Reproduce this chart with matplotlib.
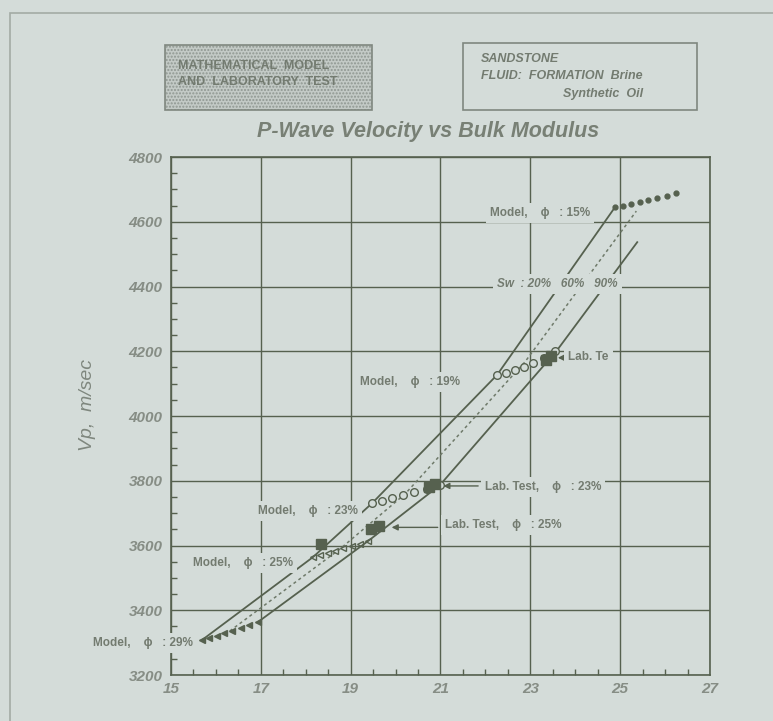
import matplotlib
matplotlib.use('Agg')
import matplotlib.pyplot as plt
import matplotlib.patches as patches
from matplotlib.ticker import MultipleLocator

plt.rcParams['font.family'] = ['Liberation Sans', 'DejaVu Sans']

BG = '#d4dcd9'
INK = '#56614f'
TXT = '#737b70'
TICK = '#868d85'

# model envelopes, K (GPa) vs Vp (m/s), one point per porosity
k_sw20 = [15.69, 18.16, 19.48, 22.26, 24.89]
vp_sw20 = [3308, 3564, 3731, 4127, 4646]
k_sw60 = [16.31, 18.76, 20.21, 22.88, 25.36]
vp_sw60 = [3336, 3589, 3759, 4167, 4633]
k_sw90 = [16.94, 19.39, 20.99, 23.60, 25.38]
vp_sw90 = [3364, 3614, 3787, 4204, 4537]

# model points for each porosity
k_p29 = [15.69, 15.85, 16.02, 16.19, 16.36, 16.55, 16.74, 16.94]
vp_p29 = [3308, 3314, 3322, 3329, 3337, 3345, 3354, 3364]
k_p25 = [18.16, 18.32, 18.49, 18.66, 18.84, 19.02, 19.20, 19.39]
vp_p25 = [3564, 3570, 3577, 3584, 3591, 3598, 3606, 3614]
k_p23 = [19.48, 19.70, 19.93, 20.17, 20.42, 20.69, 20.99]
vp_p23 = [3731, 3738, 3746, 3755, 3764, 3775, 3787]
k_p19 = [22.26, 22.45, 22.65, 22.85, 23.06, 23.30, 23.55]
vp_p19 = [4127, 4134, 4143, 4152, 4163, 4178, 4200]
k_p15 = [24.89, 25.07, 25.25, 25.44, 25.63, 25.83, 26.04, 26.25]
vp_p15 = [4646, 4650, 4655, 4660, 4666, 4672, 4680, 4689]

# laboratory measurements
k_lab = [18.34, 19.45, 19.62, 20.75, 20.88, 23.35, 23.47]
vp_lab = [3605, 3652, 3660, 3782, 3790, 4172, 4185]

x_ticks = [15, 17, 19, 21, 23, 25, 27]
y_ticks = [3200, 3400, 3600, 3800, 4000, 4200, 4400, 4600, 4800]

fig = plt.figure(figsize=(7.73, 7.21), dpi=100)
fig.patch.set_facecolor(BG)

# outer frame
fig.patches.append(patches.Rectangle((0.013, -0.1), 1.2, 1.082, transform=fig.transFigure,
                                     fill=False, edgecolor='#a3aba5', lw=1.2))

# header boxes
fig.patches.append(patches.Rectangle((0.2135, 0.8474), 0.2678, 0.0902, transform=fig.transFigure,
                                     facecolor='#c3cac6', edgecolor='#8f9791', hatch='.....', lw=0))
fig.patches.append(patches.Rectangle((0.2135, 0.8474), 0.2678, 0.0902, transform=fig.transFigure,
                                     fill=False, edgecolor='#7f877f', lw=1.2))
fig.patches.append(patches.Rectangle((0.599, 0.8474), 0.3027, 0.0929, transform=fig.transFigure,
                                     fill=False, edgecolor='#7f877f', lw=1.2))
hdr = dict(fontsize=9, fontweight='bold', color=TXT, va='center')
fig.text(0.2303, 0.9085, 'MATHEMATICAL  MODEL', **hdr)
fig.text(0.2303, 0.8863, 'AND  LABORATORY  TEST', **hdr)
fig.text(0.6223, 0.918, 'SANDSTONE', style='italic', **hdr)
fig.text(0.6223, 0.8944, 'FLUID:  FORMATION  Brine', style='italic', **hdr)
fig.text(0.7283, 0.8694, 'Synthetic  Oil', style='italic', **hdr)

fig.text(0.5537, 0.8183, 'P-Wave Velocity vs Bulk Modulus', fontsize=15.5, fontweight='bold', style='italic',
         color='#788075', ha='center', va='center')

ax = fig.add_axes([0.2212, 0.0638, 0.6973, 0.7184])
ax.set_facecolor(BG)
ax.set_xlim(15, 27)
ax.set_ylim(3200, 4800)
ax.set_xticks(x_ticks)
ax.set_yticks(y_ticks)
ax.xaxis.set_minor_locator(MultipleLocator(0.5))
ax.yaxis.set_minor_locator(MultipleLocator(50))
ax.grid(True, which='major', color=INK, lw=1.0, zorder=1)
ax.tick_params(which='both', direction='in', color=INK, top=False, right=False)
ax.tick_params(which='major', length=0, labelsize=11, labelcolor=TICK)
ax.tick_params(axis='x', which='major', pad=5)
ax.tick_params(axis='y', which='major', pad=6)
ax.tick_params(which='minor', length=4, width=1)
for lab in ax.get_xticklabels() + ax.get_yticklabels():
    lab.set_fontweight('bold')
    lab.set_fontstyle('italic')
for s in ax.spines.values():
    s.set_color(INK)
    s.set_linewidth(1.2)
ax.set_axisbelow(True)

fig.text(0.1138, 0.4383, 'Vp,  m/sec', fontsize=14, style='italic', color='#7f877e',
         rotation=90, ha='center', va='center')

ax.plot(k_sw20, vp_sw20, color=INK, lw=1.3, zorder=3)
ax.plot(k_sw60, vp_sw60, color='#6f7a6a', lw=1.1, ls=(0, (2, 2)), zorder=3)
ax.plot(k_sw90, vp_sw90, color=INK, lw=1.3, zorder=3)

ax.plot(k_p29, vp_p29, ls='none', marker='<', ms=4, color=INK, zorder=4)
ax.plot(k_p25, vp_p25, ls='none', marker='<', ms=5, mfc='none', mec=INK, mew=1, zorder=4)
ax.plot(k_p23, vp_p23, ls='none', marker='o', ms=5.5, mfc=BG, mec=INK, mew=1, zorder=4)
ax.plot(k_p19, vp_p19, ls='none', marker='o', ms=5.5, mfc=BG, mec=INK, mew=1, zorder=4)
ax.plot(k_p15, vp_p15, ls='none', marker='o', ms=3.5, color=INK, zorder=4)
ax.plot(k_lab, vp_lab, ls='none', marker='s', ms=7, color=INK, zorder=5)

box = dict(facecolor=BG, edgecolor='none', pad=3)
lab_kw = dict(fontsize=8.5, fontweight='bold', color=TXT, va='center', bbox=box, zorder=6, clip_on=False)
ax.text(24.33, 4627, 'Model,    \u03d5   : 15%', ha='right', **lab_kw)
ax.text(21.44, 4105, 'Model,    \u03d5   : 19%', ha='right', **lab_kw)
ax.text(19.16, 3707, 'Model,    \u03d5   : 23%', ha='right', **lab_kw)
ax.text(17.72, 3546, 'Model,    \u03d5   : 25%', ha='right', **lab_kw)
ax.text(15.49, 3299, 'Model,    \u03d5   : 29%', ha='right', **lab_kw)

sw_kw = dict(lab_kw)
sw_kw['style'] = 'italic'
ax.text(22.26, 4408, 'Sw  : 20%   60%   90%', ha='left', **sw_kw)

ax.text(21.10, 3664, 'Lab. Test,    \u03d5   : 25%', ha='left', **lab_kw)
ax.text(21.99, 3781, 'Lab. Test,    \u03d5   : 23%', ha='left', **lab_kw)
ax.text(23.84, 4182, 'Lab. Te', ha='left', **lab_kw)

arrow = dict(arrowstyle='-|>', color=INK, lw=1.0, mutation_scale=9)
ax.annotate('', xy=(19.85, 3656), xytext=(21.0, 3656), arrowprops=arrow, zorder=5)
ax.annotate('', xy=(21.0, 3784), xytext=(21.9, 3784), arrowprops=arrow, zorder=5)
ax.annotate('', xy=(23.55, 4180), xytext=(23.8, 4180), arrowprops=arrow, zorder=5)

fig.savefig('out.png', dpi=100, facecolor=BG)
